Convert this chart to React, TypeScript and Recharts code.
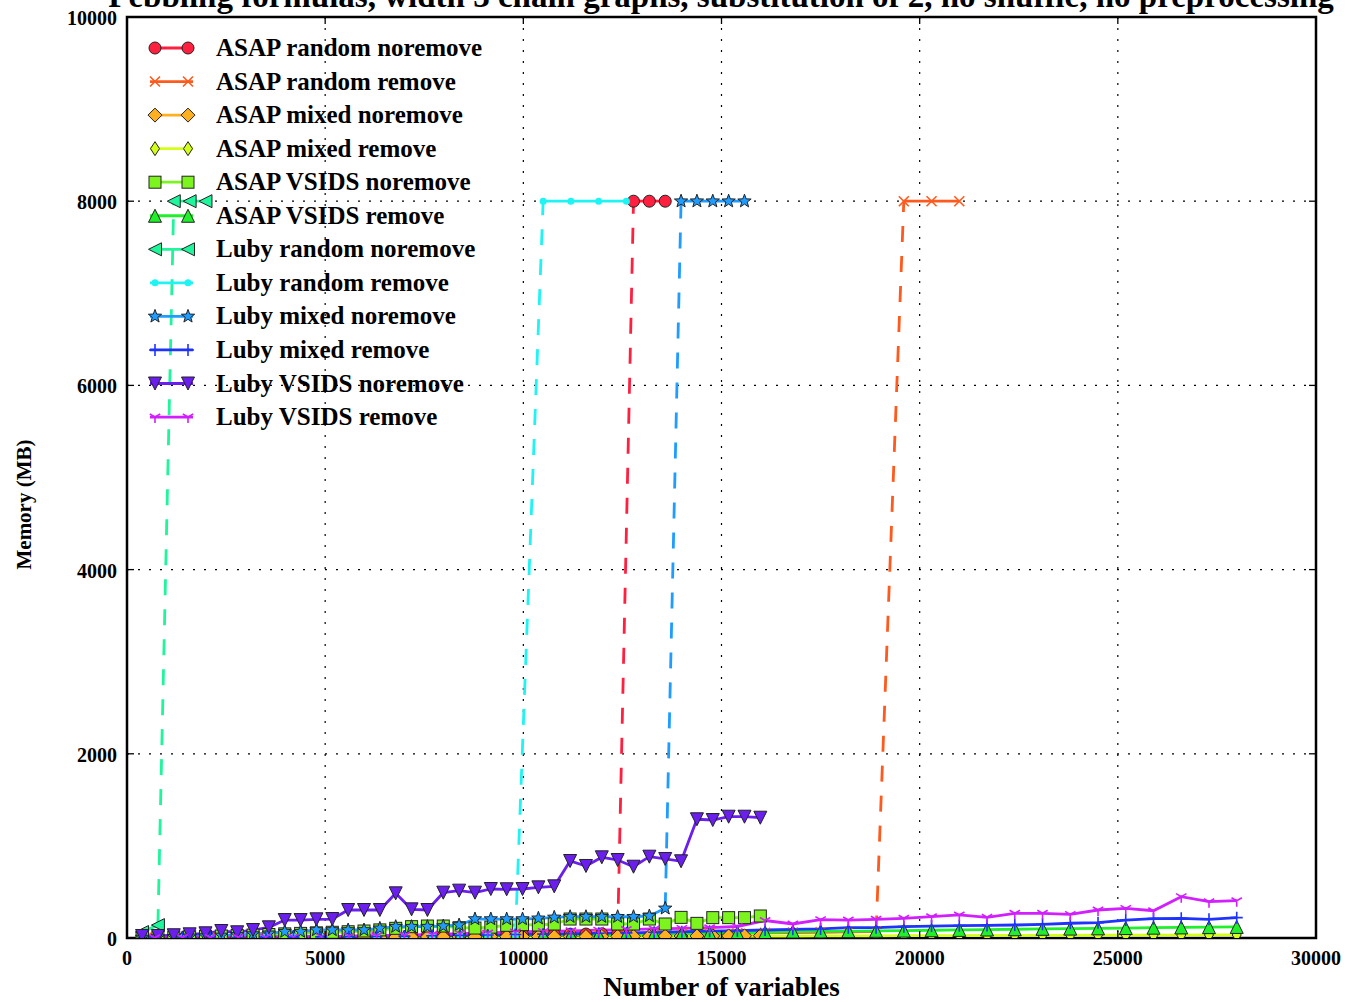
import { CartesianGrid, Line, LineChart, ReferenceArea, XAxis, YAxis } from "recharts";

const WIDTH = 1353;
const HEIGHT = 1002;
const FONT = "'Liberation Serif', 'Times New Roman', serif";

// plot box: margins around the axes area
const M_TOP = 17;
const M_RIGHT = 37;
const Y_AXIS_W = 127;
const X_AXIS_H = 64;
const PLOT_W = WIDTH - Y_AXIS_W - M_RIGHT;
const PLOT_H = HEIGHT - M_TOP - X_AXIS_H;

// runs that blew the memory limit are plotted at this value
const MEMOUT = 8000;

// number of variables for the noremove and remove runs
const xNoremove = [
  380, 780, 1180, 1580, 1980, 2380, 2780, 3180, 3580, 3980, 4380, 4780, 5180, 5580, 5980, 6380,
  6780, 7180, 7580, 7980, 8380, 8780, 9180, 9580, 9980, 10380, 10780, 11180, 11580, 11980, 12380,
  12780, 13180, 13580, 13980, 14380, 14780, 15180, 15580, 15980,
];
const xRemove = [
  700, 1400, 2100, 2800, 3500, 4200, 4900, 5600, 6300, 7000, 7700, 8400, 9100, 9800, 10500, 11200,
  11900, 12600, 13300, 14000, 14700, 15400, 16100, 16800, 17500, 18200, 18900, 19600, 20300, 21000,
  21700, 22400, 23100, 23800, 24500, 25200, 25900, 26600, 27300, 28000,
];

const xTicks = [0, 5000, 10000, 15000, 20000, 25000, 30000];
const yTicks = [0, 2000, 4000, 6000, 8000, 10000];

// memory (MB)
const asapRandomNoremove = [
  2, 3, 4, 5, 6, 7, 8, 9, 11, 12, 13, 15, 16, 17, 19, 20, 22, 23, 25, 26, 28, 30, 31, 33, 35, 37,
  39, 41, 43, 45, 47, 8000, 8000, 8000,
];
const asapRandomRemove = [
  2, 3, 5, 6, 8, 10, 12, 14, 16, 18, 20, 23, 25, 28, 30, 33, 36, 39, 42, 45, 48, 52, 55, 58, 62, 66,
  70, 8000, 8000, 8000,
];
const asapMixedNoremove = [
  1, 2, 2, 3, 3, 4, 4, 5, 5, 6, 6, 7, 8, 8, 9, 9, 10, 11, 11, 12, 12, 13, 14, 14, 15, 16, 16, 17,
  17, 18, 19, 19, 20, 21, 21, 22, 23, 23, 24, 25,
];
const asapMixedRemove = [
  1, 2, 2, 3, 4, 4, 5, 6, 6, 7, 8, 9, 10, 11, 12, 13, 14, 15, 16, 17, 18, 19, 20, 21, 22, 23, 24,
  25, 26, 26, 27, 28, 29, 29, 30, 31, 31, 32, 33, 33,
];
const asapVsidsNoremove = [
  5, 8, 10, 14, 18, 22, 27, 32, 38, 45, 50, 56, 62, 68, 76, 88, 105, 123, 130, 130, 112, 108, 118,
  138, 145, 141, 152, 206, 206, 206, 152, 152, 206, 152, 224, 159, 221, 221, 221, 239,
];
const asapVsidsRemove = [
  2, 3, 4, 6, 7, 9, 11, 12, 14, 16, 18, 21, 24, 27, 30, 33, 36, 40, 44, 48, 52, 56, 60, 70, 72, 75,
  78, 80, 84, 88, 92, 95, 100, 102, 105, 108, 112, 115, 118, 120,
];
const lubyRandomNoremove = [65, 140, 8000, 8000, 8000];
const lubyRandomRemove = [3, 5, 7, 9, 11, 13, 15, 18, 20, 23, 26, 29, 32, 36, 8000, 8000, 8000, 8000];
const lubyMixedNoremove = [
  6, 10, 14, 18, 22, 28, 34, 43, 51, 69, 69, 87, 87, 87, 87, 105, 123, 123, 123, 130, 141, 206, 206,
  206, 206, 214, 224, 231, 231, 231, 231, 231, 239, 322, 8000, 8000, 8000, 8000, 8000,
];
const lubyMixedRemove = [
  2, 3, 5, 6, 8, 10, 12, 14, 17, 20, 24, 28, 32, 38, 42, 46, 52, 56, 62, 68, 74, 80, 87, 94, 98, 112,
  112, 123, 130, 134, 137, 141, 149, 160, 166, 195, 210, 214, 203, 221,
];
const lubyVsidsNoremove = [
  22, 22, 30, 40, 51, 76, 62, 87, 116, 195, 195, 203, 206, 304, 304, 304, 485, 311, 304, 492, 514,
  492, 532, 529, 532, 550, 561, 836, 782, 876, 847, 774, 883, 858, 833, 1289, 1281, 1317, 1317, 1306,
];
const lubyVsidsRemove = [
  3, 5, 6, 8, 10, 12, 15, 20, 25, 30, 38, 48, 55, 65, 72, 78, 85, 92, 98, 105, 112, 125, 190, 152,
  199, 195, 203, 214, 231, 250, 225, 268, 268, 257, 304, 322, 296, 449, 394, 405,
];

type MarkerKind = "o" | "x" | "D" | "d" | "s" | "^" | "<" | "." | "*" | "+" | "v" | "1";

interface Series {
  name: string;
  color: string;
  marker: MarkerKind;
  xs: number[];
  ys: number[];
}

const series: Series[] = [
  { name: "ASAP random noremove", color: "#ff2040", marker: "o", xs: xNoremove, ys: asapRandomNoremove },
  { name: "ASAP random remove", color: "#ff5a1e", marker: "x", xs: xRemove, ys: asapRandomRemove },
  { name: "ASAP mixed noremove", color: "#ffb020", marker: "D", xs: xNoremove, ys: asapMixedNoremove },
  { name: "ASAP mixed remove", color: "#d4ff1a", marker: "d", xs: xRemove, ys: asapMixedRemove },
  { name: "ASAP VSIDS noremove", color: "#7cf41e", marker: "s", xs: xNoremove, ys: asapVsidsNoremove },
  { name: "ASAP VSIDS remove", color: "#1ff02a", marker: "^", xs: xRemove, ys: asapVsidsRemove },
  { name: "Luby random noremove", color: "#1ff59a", marker: "<", xs: xNoremove, ys: lubyRandomNoremove },
  { name: "Luby random remove", color: "#1ff4f4", marker: ".", xs: xRemove, ys: lubyRandomRemove },
  { name: "Luby mixed noremove", color: "#1f9cff", marker: "*", xs: xNoremove, ys: lubyMixedNoremove },
  { name: "Luby mixed remove", color: "#1f33ff", marker: "+", xs: xRemove, ys: lubyMixedRemove },
  { name: "Luby VSIDS noremove", color: "#6a1fef", marker: "v", xs: xNoremove, ys: lubyVsidsNoremove },
  { name: "Luby VSIDS remove", color: "#d11fff", marker: "1", xs: xRemove, ys: lubyVsidsRemove },
];

interface Pt {
  x: number;
  y: number;
}

function splitRuns(s: Series) {
  const pts: Pt[] = s.ys.map((y, i) => ({ x: s.xs[i], y }));
  const ok = pts.filter((p) => p.y < MEMOUT);
  const out = pts.filter((p) => p.y >= MEMOUT);
  const bridge = ok.length && out.length ? [ok[ok.length - 1], out[0]] : [];
  return { ok, out, bridge };
}

const EDGE = "#222";

function starPath(r: number, inner: number) {
  let d = "";
  for (let i = 0; i < 10; i++) {
    const a = -Math.PI / 2 + (i * Math.PI) / 5;
    const rr = i % 2 === 0 ? r : inner;
    d += `${i === 0 ? "M" : "L"}${(rr * Math.cos(a)).toFixed(2)},${(rr * Math.sin(a)).toFixed(2)}`;
  }
  return d + "Z";
}

function Marker({ kind, cx, cy, color }: { kind: MarkerKind; cx: number; cy: number; color: string }) {
  if (cx == null || cy == null || isNaN(cx) || isNaN(cy)) return null;
  const t = `translate(${cx},${cy})`;
  switch (kind) {
    case "o":
      return <circle cx={cx} cy={cy} r={6} fill={color} stroke={EDGE} strokeWidth={1} />;
    case "x":
      return <path transform={t} d="M-5,-5L5,5M-5,5L5,-5" stroke={color} strokeWidth={1.6} fill="none" />;
    case "D":
      return <path transform={t} d="M0,-7L7,0L0,7L-7,0Z" fill={color} stroke={EDGE} strokeWidth={1} />;
    case "d":
      return <path transform={t} d="M0,-7L4.5,0L0,7L-4.5,0Z" fill={color} stroke={EDGE} strokeWidth={1} />;
    case "s":
      return <rect x={cx - 6} y={cy - 6} width={12} height={12} fill={color} stroke={EDGE} strokeWidth={1} />;
    case "^":
      return <path transform={t} d="M0,-6.5L6.5,6.5L-6.5,6.5Z" fill={color} stroke={EDGE} strokeWidth={1} />;
    case "<":
      return <path transform={t} d="M-6.5,0L6.5,-6.5L6.5,6.5Z" fill={color} stroke={EDGE} strokeWidth={1} />;
    case ".":
      return <circle cx={cx} cy={cy} r={3.5} fill={color} />;
    case "*":
      return <path transform={t} d={starPath(7, 2.9)} fill={color} stroke={EDGE} strokeWidth={1} />;
    case "+":
      return <path transform={t} d="M-6,0L6,0M0,-6L0,6" stroke={color} strokeWidth={1.6} fill="none" />;
    case "v":
      return <path transform={t} d="M0,6.5L6.5,-6.5L-6.5,-6.5Z" fill={color} stroke={EDGE} strokeWidth={1} />;
    case "1":
      return <path transform={t} d="M0,0L0,6M0,0L-5.2,-3M0,0L5.2,-3" stroke={color} strokeWidth={1.6} fill="none" />;
  }
  return null;
}

// x ticks point inwards from the bottom and from the top spine
function BottomTick({ x, y, payload }: any) {
  return (
    <g>
      <line x1={x} x2={x} y1={y} y2={y - 7} stroke="#000" strokeWidth={1.3} />
      <line x1={x} x2={x} y1={y - PLOT_H} y2={y - PLOT_H + 7} stroke="#000" strokeWidth={1.3} />
      <text x={x} y={y + 27} textAnchor="middle" fontFamily={FONT} fontWeight="bold" fontSize={20} fill="#000">
        {payload.value}
      </text>
    </g>
  );
}

// y ticks point inwards from the left and from the right spine
function LeftTick({ x, y, payload }: any) {
  return (
    <g>
      <line x1={x} x2={x + 7} y1={y} y2={y} stroke="#000" strokeWidth={1.3} />
      <line x1={x + PLOT_W} x2={x + PLOT_W - 7} y1={y} y2={y} stroke="#000" strokeWidth={1.3} />
      <text x={x - 10} y={y + 8} textAnchor="end" fontFamily={FONT} fontWeight="bold" fontSize={20} fill="#000">
        {payload.value}
      </text>
    </g>
  );
}

const LEG_Y0 = 48;
const LEG_STEP = 33.55;

export default function App() {
  return (
    <div style={{ position: "absolute", left: 0, top: 0, width: WIDTH, height: HEIGHT, background: "#fff" }}>
      <LineChart width={WIDTH} height={HEIGHT} margin={{ top: M_TOP, right: M_RIGHT, bottom: 0, left: 0 }}>
        <CartesianGrid stroke="#000" strokeWidth={1.2} strokeDasharray="2 9" />
        <XAxis
          dataKey="x"
          type="number"
          domain={[0, 30000]}
          ticks={xTicks}
          allowDataOverflow
          height={X_AXIS_H}
          tickSize={0}
          tickMargin={0}
          tickLine={false}
          tick={<BottomTick />}
          axisLine={false}
          label={{
            content: ({ viewBox }: any) => (
              <text
                x={viewBox.x + viewBox.width / 2}
                y={viewBox.y + 58}
                textAnchor="middle"
                fontFamily={FONT}
                fontWeight="bold"
                fontSize={27}
                fill="#000"
              >
                Number of variables
              </text>
            ),
          }}
        />
        <YAxis
          type="number"
          domain={[0, 10000]}
          ticks={yTicks}
          allowDataOverflow
          width={Y_AXIS_W}
          tickSize={0}
          tickMargin={0}
          tickLine={false}
          tick={<LeftTick />}
          axisLine={false}
          label={{
            content: ({ viewBox }: any) => {
              const cy = viewBox.y + viewBox.height / 2 + 27;
              return (
                <text
                  x={31}
                  y={cy}
                  transform={`rotate(-90, 31, ${cy})`}
                  textAnchor="middle"
                  fontFamily={FONT}
                  fontWeight="bold"
                  fontSize={21}
                  fill="#000"
                >
                  Memory (MB)
                </text>
              );
            },
          }}
        />
        {series.flatMap((s) => {
          const { ok, out, bridge } = splitRuns(s);
          const dot = (p: any) => (
            <Marker key={`${s.name}-${p.index}`} kind={s.marker} cx={p.cx} cy={p.cy} color={s.color} />
          );
          const lines = [
            <Line
              key={`${s.name}-ok`}
              data={ok}
              dataKey="y"
              type="linear"
              stroke={s.color}
              strokeWidth={2.8}
              dot={dot}
              activeDot={false}
              isAnimationActive={false}
            />,
          ];
          if (bridge.length) {
            lines.push(
              <Line
                key={`${s.name}-bridge`}
                data={bridge}
                dataKey="y"
                type="linear"
                stroke={s.color}
                strokeWidth={2.8}
                strokeDasharray="16 14"
                dot={false}
                activeDot={false}
                isAnimationActive={false}
              />,
              <Line
                key={`${s.name}-out`}
                data={out}
                dataKey="y"
                type="linear"
                stroke={s.color}
                strokeWidth={2.8}
                dot={dot}
                activeDot={false}
                isAnimationActive={false}
              />
            );
          }
          return lines;
        })}
        {/* axes frame */}
        <ReferenceArea
          x1={0}
          x2={30000}
          y1={0}
          y2={10000}
          fill="none"
          fillOpacity={0}
          stroke="#000"
          strokeWidth={2.5}
          ifOverflow="visible"
        />
      </LineChart>
      <svg
        width={WIDTH}
        height={HEIGHT}
        style={{ position: "absolute", left: 0, top: 0, pointerEvents: "none" }}
      >
        <text x={721} y={7} textAnchor="middle" fontFamily={FONT} fontWeight="bold" fontSize={33} fill="#000">
          Pebbling formulas, width 3 chain graphs, substitution of 2, no shuffle, no preprocessing
        </text>
        {series.map((s, i) => {
          const cy = LEG_Y0 + i * LEG_STEP;
          return (
            <g key={s.name}>
              <line x1={150} x2={193} y1={cy} y2={cy} stroke={s.color} strokeWidth={2.8} />
              <Marker kind={s.marker} cx={155} cy={cy} color={s.color} />
              <Marker kind={s.marker} cx={188} cy={cy} color={s.color} />
              <text x={216} y={cy + 8} fontFamily={FONT} fontWeight="bold" fontSize={25} fill="#000">
                {s.name}
              </text>
            </g>
          );
        })}
      </svg>
    </div>
  );
}
